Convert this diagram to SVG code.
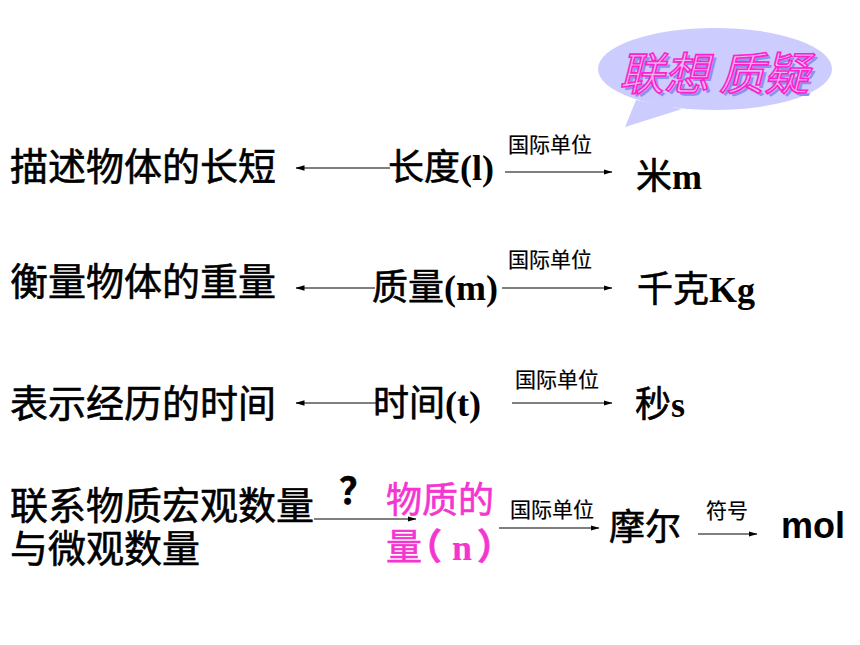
<svg xmlns="http://www.w3.org/2000/svg" width="860" height="645" viewBox="0 0 860 645">
<defs>
<marker id="ah" markerWidth="9" markerHeight="7" refX="8.5" refY="3.5" orient="auto" markerUnits="userSpaceOnUse">
<path d="M0,0.8 L9,3.5 L0,6.2 Z" fill="#000"/>
</marker>
<style>
.cjk{font-family:"Noto Sans CJK SC","Noto Sans",sans-serif;fill:#000;stroke:#000;stroke-width:0.6}
.big{font-size:38px}
.mid{font-size:36px}
.sm{font-size:21px;stroke-width:0.2}
.tr{font-family:"Liberation Serif","Noto Serif",serif;font-weight:bold;stroke-width:0}
.ar{font-family:"Liberation Sans",Arial,sans-serif;font-weight:bold}
.mag{fill:#F535D0;stroke:#F535D0}
.ln{stroke:#000;stroke-width:1.2;fill:none;marker-end:url(#ah)}
.bt{font-family:"Noto Sans CJK SC",sans-serif;font-size:45px;font-style:italic}
</style>
</defs>
<rect width="860" height="645" fill="#fff"/>

<g id="bubble">
<path d="M636,100 L625,127 L682,109 Z" fill="#CCCCFF"/>
<ellipse cx="715" cy="69" rx="117" ry="41" fill="#CCCCFF"/>
<text class="bt" x="622" y="93" fill="#8F8FEF">联想 质疑</text>
<text class="bt" x="619" y="90" fill="#EDB6F2" stroke="#FF22CC" stroke-width="1.6">联想 质疑</text>
</g>

<g id="row1">
<text class="cjk big" x="10" y="180">描述物体的长短</text>
<text class="cjk mid" x="388" y="180">长度<tspan class="tr">(l)</tspan></text>
<text class="cjk sm" x="508" y="152">国际单位</text>
<text class="cjk mid" x="636" y="189">米<tspan class="tr">m</tspan></text>
</g>

<g id="row2">
<text class="cjk big" x="10" y="295">衡量物体的重量</text>
<text class="cjk mid" x="372" y="300">质量<tspan class="tr">(m)</tspan></text>
<text class="cjk sm" x="508" y="267">国际单位</text>
<text class="cjk mid" x="637" y="302">千克<tspan class="tr">Kg</tspan></text>
</g>

<g id="row3">
<text class="cjk big" x="10" y="417">表示经历的时间</text>
<text class="cjk mid" x="373" y="416">时间<tspan class="tr">(t)</tspan></text>
<text class="cjk sm" x="515" y="387">国际单位</text>
<text class="cjk mid" x="635" y="417">秒<tspan class="tr">s</tspan></text>
</g>

<g id="row4">
<text class="cjk big" x="10" y="519">联系物质宏观数量</text>
<text class="cjk big" x="10" y="562">与微观数量</text>
<text class="cjk" x="357" y="504" font-size="36" font-weight="bold" text-anchor="middle" stroke-width="0">？</text>
<text class="cjk mid mag" x="386" y="513">物质的</text>
<text class="cjk mid mag" x="386" y="560">量<tspan x="406" font-weight="bold">（</tspan><tspan class="tr mag" x="452">n</tspan><tspan x="477" font-weight="bold">）</tspan></text>
<text class="cjk sm" x="510" y="517">国际单位</text>
<text class="cjk mid" x="609" y="540">摩尔</text>
<text class="cjk sm" x="706" y="518">符号</text>
<text class="ar" x="781" y="538" font-size="36">mol</text>
</g>

<g id="connectors">
<line class="ln" x1="390" y1="168" x2="296" y2="168"/>
<line class="ln" x1="505" y1="172" x2="612" y2="172"/>
<line class="ln" x1="375" y1="288" x2="296" y2="288"/>
<line class="ln" x1="502" y1="288" x2="612" y2="288"/>
<line class="ln" x1="377" y1="403" x2="296" y2="403"/>
<line class="ln" x1="512" y1="403" x2="612" y2="403"/>
<line class="ln" x1="314" y1="519" x2="416" y2="519"/>
<line class="ln" x1="499" y1="528" x2="599" y2="528"/>
<line class="ln" x1="698" y1="534" x2="757" y2="534"/>
</g>
</svg>
